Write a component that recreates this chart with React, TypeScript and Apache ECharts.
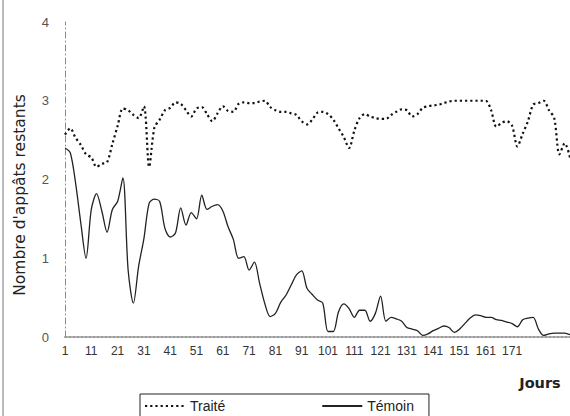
import React, { useEffect, useRef } from "react";
import * as echarts from "echarts";

// Observation days (every second day)
const days: string[] = [];
for (let d = 1; d <= 193; d += 2) days.push(String(d));

const yTicks = [0, 1, 2, 3, 4];

const traite = [
  2.57, 2.65, 2.53, 2.44, 2.32, 2.28, 2.16, 2.2, 2.22, 2.45,
  2.68, 2.9, 2.88, 2.82, 2.78, 2.93, 2.16, 2.66, 2.76, 2.88,
  2.91, 2.98, 2.96, 2.88, 2.8, 2.9, 2.92, 2.83, 2.74, 2.84,
  2.93, 2.87, 2.86, 2.96, 2.98, 2.97, 2.97, 2.99, 3.0, 2.92,
  2.88, 2.86, 2.86, 2.84, 2.82, 2.74, 2.7, 2.76, 2.85, 2.86,
  2.83, 2.76, 2.65, 2.54, 2.4, 2.62, 2.78, 2.83, 2.8, 2.78,
  2.77, 2.77, 2.82, 2.86, 2.89, 2.88, 2.8, 2.83, 2.91, 2.93,
  2.94, 2.95, 2.97, 2.99, 3.0, 3.0, 3.0, 3.0, 3.0, 3.0,
  3.0, 2.88, 2.67, 2.72, 2.74, 2.68, 2.42, 2.58, 2.74, 2.95,
  2.97, 3.0, 2.88, 2.78, 2.32, 2.46, 2.28,
];

const temoin = [
  2.4, 2.34, 1.96, 1.45, 1.0, 1.62, 1.82, 1.6, 1.33, 1.62,
  1.72, 2.02, 0.85, 0.43, 0.9, 1.25, 1.7, 1.75, 1.72, 1.38,
  1.27, 1.32, 1.64, 1.42, 1.58, 1.5, 1.8, 1.62, 1.66, 1.68,
  1.6, 1.4, 1.24, 1.0, 1.02, 0.85, 0.95, 0.68, 0.42, 0.26,
  0.3, 0.44, 0.53, 0.66, 0.79, 0.84, 0.62, 0.54, 0.47, 0.43,
  0.07, 0.07, 0.32, 0.42, 0.36, 0.25, 0.34, 0.34, 0.2, 0.3,
  0.52, 0.2, 0.25, 0.23, 0.2, 0.12, 0.1, 0.08, 0.02, 0.04,
  0.08, 0.11, 0.14, 0.12, 0.06, 0.1, 0.17, 0.24, 0.28, 0.27,
  0.25, 0.25, 0.22, 0.21, 0.19, 0.17, 0.13, 0.22, 0.24, 0.25,
  0.1, 0.02, 0.04, 0.05, 0.05, 0.05, 0.03,
];

const FONT = "'Liberation Sans', Arial, sans-serif";

export default function App() {
  const ref = useRef<HTMLDivElement>(null);
  useEffect(() => {
    if (!ref.current) return;
    const chart = echarts.init(ref.current, null, { renderer: "svg" });
    chart.setOption({
      animation: false,
      backgroundColor: "#ffffff",
      grid: { left: 65, right: 0, top: 22, bottom: 79, containLabel: false },
      xAxis: {
        type: "category",
        data: days,
        boundaryGap: false,
        axisLine: { show: true, lineStyle: { color: "#9a9a9a", width: 2, type: [2, 2] } },
        axisTick: { show: false },
        axisLabel: {
          interval: (idx: number, val: string) => idx % 5 === 0 && Number(val) <= 171,
          color: "#333",
          fontFamily: FONT,
          fontSize: 12,
          margin: 8,
        },
        splitLine: { show: false },
      },
      yAxis: {
        type: "value",
        min: yTicks[0],
        max: yTicks[yTicks.length - 1],
        interval: 1,
        axisLine: { show: true, lineStyle: { color: "#8a8a8a", width: 1, type: [6, 3, 1, 3] } },
        axisTick: { show: false },
        axisLabel: { color: "#555", fontFamily: FONT, fontSize: 13, margin: 16 },
        splitLine: { show: false },
      },
      legend: {
        left: 140,
        top: 394,
        padding: [5, 15, 14, 4],
        borderColor: "#222",
        borderWidth: 1,
        itemWidth: 40,
        itemHeight: 14,
        itemGap: 96,
        itemStyle: { opacity: 0, borderWidth: 0 },
        textStyle: { color: "#222", fontFamily: FONT, fontSize: 14 },
        data: ["Traité", "Témoin"],
      },
      series: [
        {
          name: "Traité",
          type: "line",
          data: traite,
          showSymbol: false,
          symbol: "none",
          smooth: 0.3,
          lineStyle: { color: "#111", width: 2.2, type: [2.2, 3] },
          itemStyle: { color: "#111" },
        },
        {
          name: "Témoin",
          type: "line",
          data: temoin,
          showSymbol: false,
          symbol: "none",
          smooth: 0.3,
          lineStyle: { color: "#222", width: 1.3, type: "solid" },
          itemStyle: { color: "#222" },
        },
      ],
      graphic: [
        {
          type: "line",
          shape: { x1: 3, y1: 0, x2: 3, y2: 416 },
          style: { stroke: "#777", lineWidth: 1 },
        },
        {
          type: "text",
          x: 20,
          y: 195,
          rotation: Math.PI / 2,
          style: {
            text: "Nombre d'appâts restants",
            fill: "#222",
            font: "15.5px 'DejaVu Sans', sans-serif",
            align: "center",
            verticalAlign: "middle",
          },
        },
        {
          type: "text",
          x: 540,
          y: 383,
          style: {
            text: "Jours",
            fill: "#222",
            font: "bold 14.5px 'DejaVu Sans', sans-serif",
            align: "center",
            verticalAlign: "middle",
          },
        },
      ],
    });
    return () => chart.dispose();
  }, []);
  return (
    <div
      ref={ref}
      style={{ position: "absolute", left: 0, top: 0, width: 570, height: 416 }}
    />
  );
}
